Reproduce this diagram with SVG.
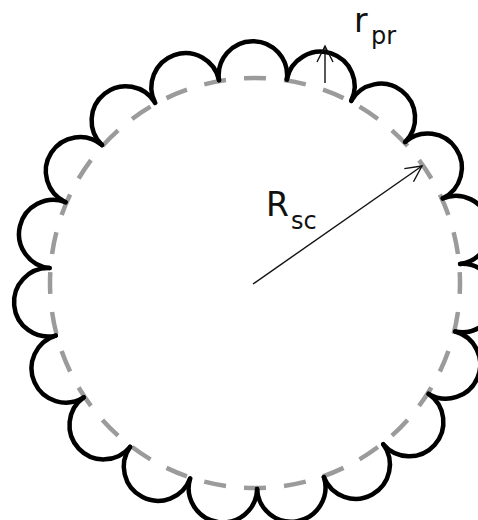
<svg xmlns="http://www.w3.org/2000/svg" xmlns:xlink="http://www.w3.org/1999/xlink" width="478" height="520" viewBox="0 0 478 520">
  <style>
    .scallop { fill: none; stroke: #000; stroke-width: 4.5; stroke-linecap: round; }
    .dash { fill: none; stroke: #9b9b9b; stroke-width: 4.5; stroke-dasharray: 22 18; }
    .arrow { fill: none; stroke: #111; stroke-width: 1.4; marker-end: url(#open); }
    .lbl { font-family: "DejaVu Sans", "Liberation Sans", sans-serif; fill: #111; }
  </style>
  <defs>
    <marker id="open" markerUnits="userSpaceOnUse" markerWidth="22" markerHeight="22" refX="18" refY="10" orient="auto" viewBox="0 0 22 20">
      <path d="M2,2 L18,10 L2,18" fill="none" stroke="#111" stroke-width="1.4"/>
    </marker>
    <path id="bump" d="M221.09,79.81 A34.2,34.2 0 1 1 288.91,79.81"/>
  </defs>
  <rect width="478" height="520" fill="#fff"/>

  <g id="reference-circle">
    <circle class="dash" cx="255" cy="283" r="205" pathLength="1280" stroke-dashoffset="11"/>
  </g>

  <g id="scalloped-outline" class="scallop">
    <use xlink:href="#bump" transform="rotate(-19.53 255 283)"/>
    <use xlink:href="#bump" transform="rotate(-0.58 255 283)"/>
    <use xlink:href="#bump" transform="rotate(18.37 255 283)"/>
    <use xlink:href="#bump" transform="rotate(37.32 255 283)"/>
    <use xlink:href="#bump" transform="rotate(56.26 255 283)"/>
    <use xlink:href="#bump" transform="rotate(75.21 255 283)"/>
    <use xlink:href="#bump" transform="rotate(94.16 255 283)"/>
    <use xlink:href="#bump" transform="rotate(113.10 255 283)"/>
    <use xlink:href="#bump" transform="rotate(132.05 255 283)"/>
    <use xlink:href="#bump" transform="rotate(150.99 255 283)"/>
    <use xlink:href="#bump" transform="rotate(169.94 255 283)"/>
    <use xlink:href="#bump" transform="rotate(188.89 255 283)"/>
    <use xlink:href="#bump" transform="rotate(207.84 255 283)"/>
    <use xlink:href="#bump" transform="rotate(226.78 255 283)"/>
    <use xlink:href="#bump" transform="rotate(245.73 255 283)"/>
    <use xlink:href="#bump" transform="rotate(264.68 255 283)"/>
    <use xlink:href="#bump" transform="rotate(283.62 255 283)"/>
    <use xlink:href="#bump" transform="rotate(302.57 255 283)"/>
    <use xlink:href="#bump" transform="rotate(321.52 255 283)"/>
  </g>

  <g id="connectors">
    <line class="arrow" x1="325" y1="83" x2="325" y2="46"/>
    <line class="arrow" x1="253" y1="284" x2="422" y2="166"/>
  </g>

  <g id="label-rpr">
    <text class="lbl" x="354" y="32" font-size="33">r<tspan x="371" y="44" font-size="24">pr</tspan></text>
  </g>
  <g id="label-Rsc">
    <text class="lbl" x="266" y="216" font-size="33">R<tspan x="291" y="229" font-size="24">sc</tspan></text>
  </g>
</svg>
